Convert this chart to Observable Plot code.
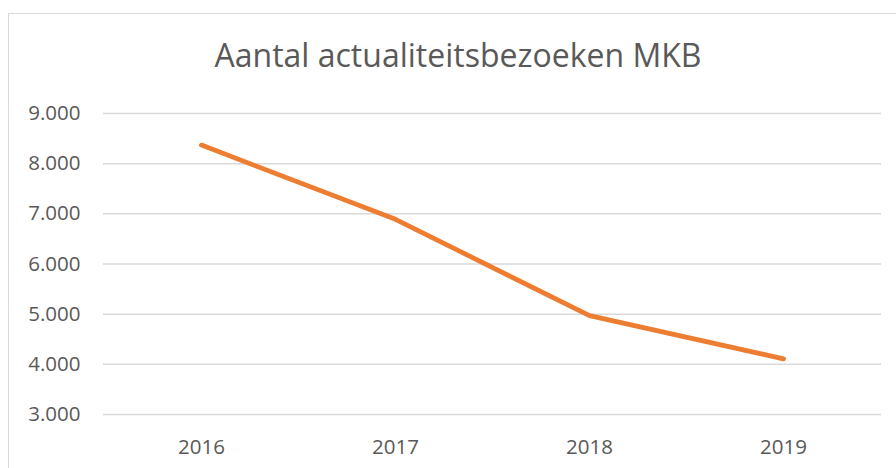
<!DOCTYPE html>
<html>
<head>
<meta charset="utf-8">
<script src="https://cdn.jsdelivr.net/npm/d3@7"></script>
<script src="https://cdn.jsdelivr.net/npm/@observablehq/plot@0.6"></script>
<style>
  html, body { margin: 0; padding: 0; background: #fff; }
  #wrap { position: relative; width: 896px; height: 468px; overflow: hidden; background: #fff; }
  #border { position: absolute; left: 8px; top: 13px; width: 940px; height: 500px; border: 1.5px solid #d9d9d9; box-sizing: border-box; }
  #title { position: absolute; left: 0; width: 916px; top: 33px; line-height: normal; text-align: center; font-family: "Open Sans", Lato, sans-serif; font-size: 32px; color: #595959; white-space: nowrap; }
  #chart { position: absolute; left: 0; top: 0; }
</style>
</head>
<body>
<div id="wrap">
  <div id="border"></div>
  <div id="title"></div>
  <div id="chart"></div>
</div>
<script>
const titleText = "Aantal actualiteitsbezoeken MKB";
const years = ["2016", "2017", "2018", "2019"];
const visits = [8370, 6890, 4970, 4110];
const yTicks = [3000, 4000, 5000, 6000, 7000, 8000, 9000];

const data = years.map((y, i) => ({year: y, value: visits[i]}));
const fmt = v => d3.format(",")(v).replace(/,/g, ".");

document.getElementById("title").textContent = titleText;

const plot = Plot.plot({
  width: 896,
  height: 468,
  marginTop: 113,
  marginBottom: 54,
  marginLeft: 103,
  marginRight: 15,
  style: {background: "transparent", fontFamily: "'Open Sans', Lato, sans-serif"},
  x: {type: "point", domain: years, padding: 0.5, label: null},
  y: {domain: [3000, 9000], label: null},
  marks: [
    Plot.ruleY(yTicks, {stroke: "#d9d9d9", strokeWidth: 1.5}),
    Plot.axisY({ticks: yTicks, tickFormat: fmt, tickSize: 0, tickPadding: 23, fontSize: 20.5, label: null}),
    Plot.axisX({tickSize: 0, tickPadding: 25, fontSize: 20.5, label: null}),
    Plot.line(data, {x: "year", y: "value", stroke: "#ED7D31", strokeWidth: 4.8, strokeLinecap: "round", strokeLinejoin: "round"})
  ]
});
plot.querySelectorAll("text").forEach(t => t.setAttribute("fill", "#595959"));
document.getElementById("chart").appendChild(plot);
</script>
</body>
</html>
